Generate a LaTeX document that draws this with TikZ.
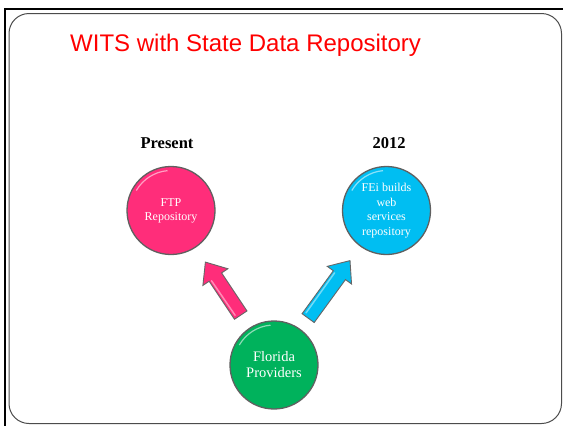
\documentclass[tikz,border=0pt]{standalone}
\usepackage{fontspec}
\setmainfont{Liberation Serif}
\newfontfamily\titlefont{Liberation Sans}
\usetikzlibrary{calc}
\definecolor{pinkc}{RGB}{255,45,122}
\definecolor{bluec}{RGB}{0,190,242}
\definecolor{greenc}{RGB}{0,178,92}
\definecolor{titlered}{RGB}{255,0,0}
\newcommand\fatarrow[3]{%
  % #1 colour, #2 tail coordinate, #3 tip coordinate
  \coordinate (hb) at ($(#3)!18pt!(#2)$);
  \filldraw[fill=#1, draw=gray!80!black, line width=0.9pt, line join=miter]
    ($(#2)!7.5pt!90:(#3)$) -- ($(hb)!7.5pt!90:(#3)$) -- ($(hb)!15pt!90:(#3)$) --
    (#3) -- ($(hb)!15pt!-90:(#3)$) -- ($(hb)!7.5pt!-90:(#3)$) --
    ($(#2)!7.5pt!-90:(#3)$) -- cycle;
  \draw[white, opacity=0.45, line width=1.5pt, line cap=round]
    ($($(#2)!5pt!90:(#3)$)!3pt!(#3)$) -- ($($(hb)!5pt!90:(#3)$)!-1pt!(#3)$);
}
\begin{document}
\begin{tikzpicture}[x=1pt,y=-1pt,
  circ/.style={circle, minimum size=88pt, inner sep=0pt, align=center,
    draw=gray!75!black, line width=1.3pt, text=white},
  head/.style={font=\bfseries\fontsize{16.5}{18}\selectfont, anchor=base}]
\useasboundingbox (0,0) rectangle (563,426);
\fill[white] (0,0) rectangle (563,426);
% frames
\draw[black, line width=2pt] (4.5,430) -- (4.5,8.5) -- (570,8.5);
\draw[gray!60!black, line width=1pt, rounded corners=20pt] (9,13.5) rectangle (561.5,423.5);
% title
\node[anchor=base west, inner sep=0pt, text=titlered, font=\titlefont\fontsize{24}{28}\selectfont] (title) at (70,51) {WITS with State Data Repository};
% headings
\node[head] (present) at (167,148) {Present};
\node[head] (year) at (389,148) {2012};
% circles
\node[circ, fill=pinkc, font=\fontsize{12}{14}\selectfont] (pink) at (171,210.5) {FTP\\Repository};
\node[circ, fill=bluec, font=\fontsize{12}{14.5}\selectfont] (blue) at (386.5,210.5) {FEi builds\\web\\services\\repository};
\node[circ, fill=greenc, font=\fontsize{14.5}{16}\selectfont] (green) at (274,365) {Florida\\Providers};
% highlights
\foreach \c in {pink,blue,green}{
  \draw[white, opacity=0.55, line width=1.2pt] ($(\c)+(150:40pt)$) arc[start angle=150, end angle=95, radius=40pt];
}
% arrows
\coordinate (pt) at ($(green.center)!60pt!(pink.center)$);
\coordinate (ph) at ($(pink.center)!62pt!(green.center)$);
\coordinate (bt) at ($(green.center)!58pt!(blue.center)$);
\coordinate (bh) at ($(blue.center)!62pt!(green.center)$);
\fatarrow{pinkc}{pt}{ph}
\fatarrow{bluec}{bt}{bh}
\end{tikzpicture}
\end{document}
